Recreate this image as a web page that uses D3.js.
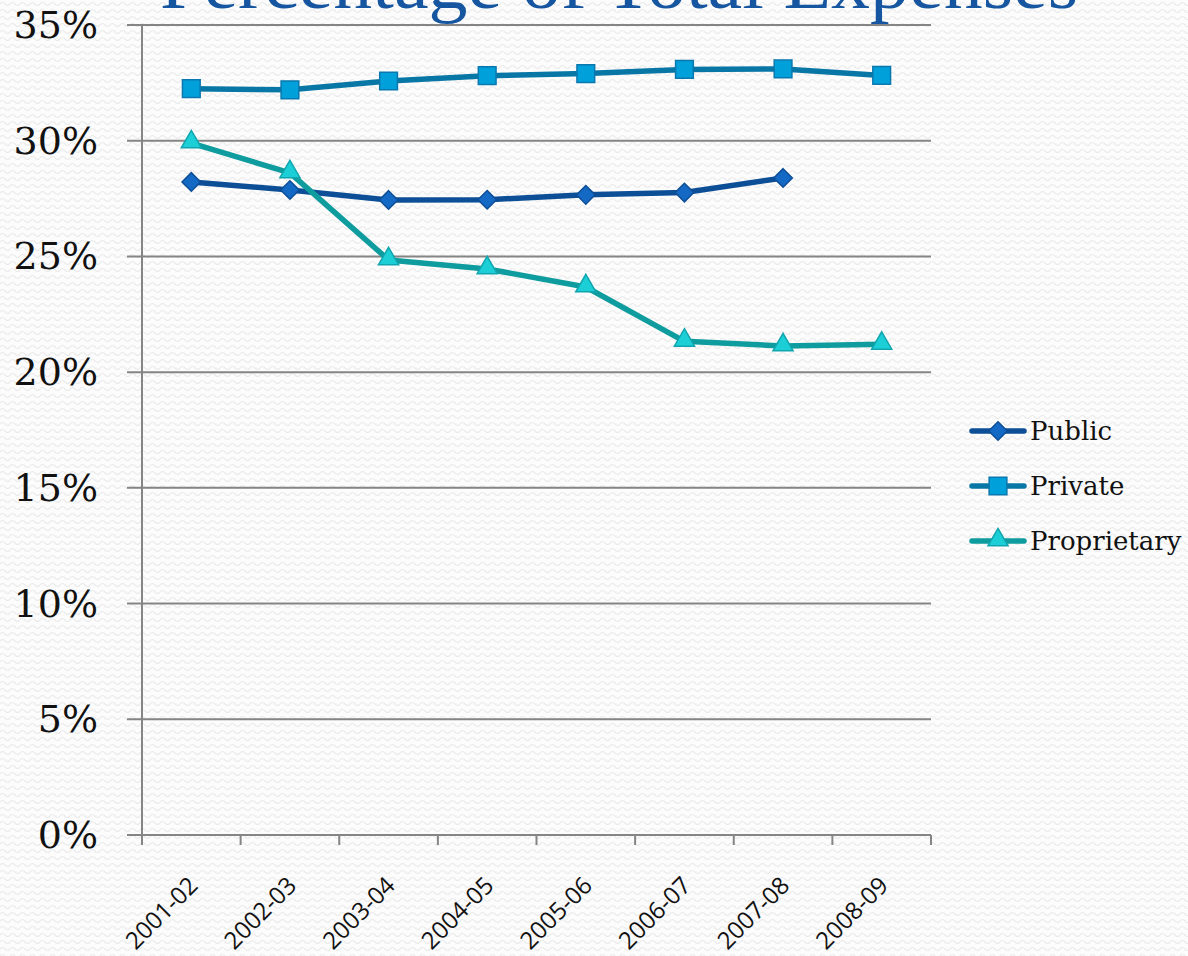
<!DOCTYPE html>
<html>
<head>
<meta charset="utf-8">
<script src="https://cdn.jsdelivr.net/npm/d3@7"></script>
<style>
html,body{margin:0;padding:0;background:#fff;}
svg{display:block;}
</style>
</head>
<body>
<svg id="chart" width="1188" height="956"></svg>
<script>
const categories = ["2001-02","2002-03","2003-04","2004-05","2005-06","2006-07","2007-08","2008-09"];
const publicVals = [28.22, 27.87, 27.44, 27.45, 27.66, 27.76, 28.39, null];
const privateVals = [32.25, 32.20, 32.58, 32.81, 32.90, 33.08, 33.10, 32.82];
const proprietaryVals = [29.90, 28.61, 24.85, 24.46, 23.68, 21.33, 21.13, 21.20];
const yTicks = [0, 5, 10, 15, 20, 25, 30, 35];
const seriesNames = ["Public", "Private", "Proprietary"];
const titleText = "Percentage of Total Expenses";

const series = [
  {name: seriesNames[0], values: publicVals, line: "#0C4F96", fill: "#1469C4", stroke: "#0D4E97", shape: "diamond"},
  {name: seriesNames[1], values: privateVals, line: "#0877A6", fill: "#00A0DA", stroke: "#0A78AE", shape: "square"},
  {name: seriesNames[2], values: proprietaryVals, line: "#0E9C9E", fill: "#1CCFD6", stroke: "#10A5AF", shape: "triangle"}
];

const svg = d3.select("#chart");
const W = 1188, H = 956;

// textured background
const defs = svg.append("defs");
const pat = defs.append("pattern").attr("id","bgpat").attr("patternUnits","userSpaceOnUse")
  .attr("width",10).attr("height",7);
pat.append("rect").attr("width",10).attr("height",7).attr("fill","#fcfcfc");
pat.append("path").attr("d","M0,4 Q2.5,1 5,4 T10,4").attr("fill","none").attr("stroke","#ebebeb").attr("stroke-width",1.2);
svg.append("rect").attr("width",W).attr("height",H).attr("fill","url(#bgpat)");

const x = d3.scaleBand().domain(categories).range([142, 931]).padding(0);
const y = d3.scaleLinear().domain([0, 35]).range([835, 25]);

// title (cut off at the top edge, as in the reference)
svg.append("text")
  .attr("x", 160).attr("y", 8)
  .attr("text-anchor","start")
  .attr("font-family","'Liberation Serif', serif")
  .attr("font-size", 74)
  .attr("textLength", 918)
  .attr("lengthAdjust", "spacingAndGlyphs")
  .attr("fill","#1656A0")
  .text(titleText);

// gridlines
svg.append("g").selectAll("line").data(yTicks).join("line")
  .attr("x1", 127).attr("x2", 931)
  .attr("y1", d => y(d)).attr("y2", d => y(d))
  .attr("stroke", "#858585").attr("stroke-width", 2);

// y tick labels
svg.append("g").selectAll("text").data(yTicks).join("text")
  .attr("x", 98).attr("y", d => y(d) + 13)
  .attr("text-anchor","end")
  .attr("font-family","'DejaVu Serif', serif")
  .attr("font-size", 38)
  .attr("fill","#111")
  .text(d => d + "%");

// y axis line
svg.append("line").attr("x1",142).attr("x2",142).attr("y1",y(35)).attr("y2",y(0))
  .attr("stroke","#858585").attr("stroke-width",2);

// x ticks at band edges
const edges = categories.map(c => x(c)).concat([x.range()[1]]);
svg.append("g").selectAll("line").data(edges).join("line")
  .attr("x1", d => d).attr("x2", d => d)
  .attr("y1", y(0)).attr("y2", y(0) + 10)
  .attr("stroke","#858585").attr("stroke-width",2);

// x labels
svg.append("g").selectAll("text").data(categories).join("text")
  .attr("transform", d => `translate(${x(d) + x.bandwidth()/2 + 8},${y(0) + 52}) rotate(-45)`)
  .attr("text-anchor","end")
  .attr("font-family","'Open Sans', sans-serif")
  .attr("font-size", 24)
  .attr("fill","#111")
  .text(d => d);

// markers
function markerPath(shape) {
  const sym = shape === "diamond" ? d3.symbolDiamond2 : shape === "square" ? d3.symbolSquare2 : d3.symbolTriangle2;
  const size = shape === "diamond" ? 220 : shape === "square" ? 400 : 290;
  return d3.symbol().type(sym).size(size)();
}

series.forEach(s => {
  const pts = categories.map((c, i) => ({c, v: s.values[i]})).filter(p => p.v != null);
  const line = d3.line().x(p => x(p.c) + x.bandwidth()/2).y(p => y(p.v));
  svg.append("path").datum(pts).attr("d", line)
    .attr("fill","none").attr("stroke", s.line).attr("stroke-width", 5.5).attr("stroke-linejoin","round");
  svg.append("g").selectAll("path").data(pts).join("path")
    .attr("transform", p => `translate(${x(p.c) + x.bandwidth()/2},${y(p.v) + (s.shape==="triangle" ? -1 : 0)})`)
    .attr("d", markerPath(s.shape))
    .attr("fill", s.fill).attr("stroke", s.stroke).attr("stroke-width", 1.5);
});

// legend
const legY = [431, 486, 541];
const leg = svg.append("g");
series.forEach((s, i) => {
  const g = leg.append("g").attr("transform", `translate(0,${legY[i]})`);
  g.append("line").attr("x1", 972).attr("x2", 1024).attr("y1", 0).attr("y2", 0)
    .attr("stroke", s.line).attr("stroke-width", 5.5).attr("stroke-linecap","round");
  g.append("path").attr("transform", `translate(998,${s.shape==="triangle" ? -1 : 0})`)
    .attr("d", markerPath(s.shape))
    .attr("fill", s.fill).attr("stroke", s.stroke).attr("stroke-width", 1.5);
  g.append("text").attr("x", 1030).attr("y", 9)
    .attr("font-family","'DejaVu Serif', serif")
    .attr("font-size", 26)
    .attr("fill","#111")
    .text(s.name);
});
</script>
</body>
</html>
